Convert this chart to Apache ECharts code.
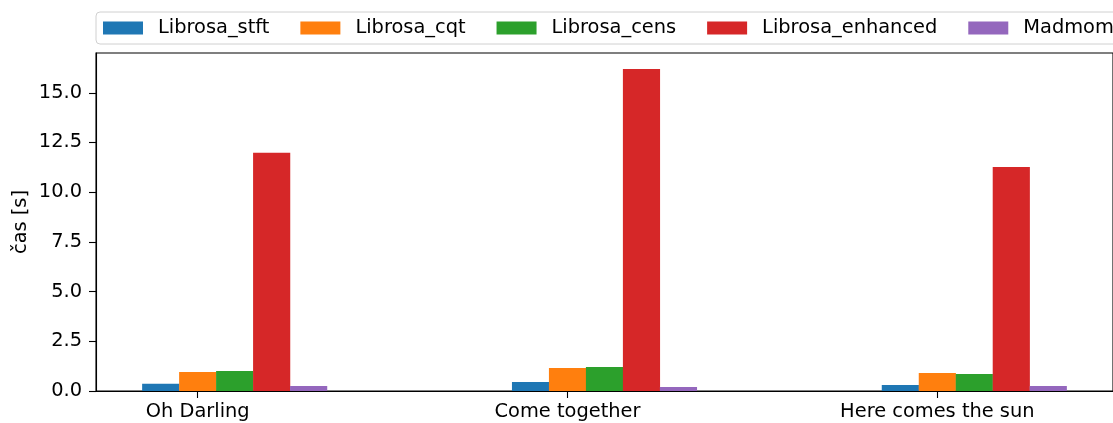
<!DOCTYPE html>
<html>
<head>
<meta charset="utf-8">
<script src="https://cdn.jsdelivr.net/npm/echarts@6/dist/echarts.min.js"></script>
<style>
html,body{margin:0;padding:0;background:#fff;}
#c{width:1113px;height:423px;}
</style>
</head>
<body>
<div id="c"></div>
<script>
// ---- data ----
const categories = ['Oh Darling', 'Come together', 'Here comes the sun'];
const seriesNames = ['Librosa_stft', 'Librosa_cqt', 'Librosa_cens', 'Librosa_enhanced', 'Madmom'];
const librosaStft = [0.37, 0.45, 0.30];
const librosaCqt = [0.96, 1.16, 0.91];
const librosaCens = [1.01, 1.21, 0.86];
const librosaEnhanced = [11.98, 16.19, 11.26];
const madmom = [0.25, 0.20, 0.25];
const yTicks = [0, 2.5, 5, 7.5, 10, 12.5, 15];

// ---- layout / style ----
const colors = ['#1f77b4', '#ff7f0e', '#2ca02c', '#d62728', '#9467bd'];
const allValues = [librosaStft, librosaCqt, librosaCens, librosaEnhanced, madmom];
const barUnit = 0.1;                 // bar width in category units
const offsets = [-0.1, 0, 0.1, 0.2, 0.3];
const xMin = -0.275, xMax = 2.475;
const yMax = Math.max(...librosaEnhanced) * 1.05;
const gridLeft = 96, gridRight = -5, gridTop = 53, gridBottom = 32;
const W = 1113;
const plotW = W - gridLeft - gridRight;
const barPx = plotW / (xMax - xMin) * barUnit;
const font = 'DejaVu Sans';
const fs = 19.4;

const chart = echarts.init(document.getElementById('c'), null, {renderer: 'canvas'});
const series = allValues.map((vals, s) => ({
  name: seriesNames[s],
  type: 'bar',
  barWidth: barPx,
  barGap: '-100%',
  itemStyle: {color: colors[s]},
  data: vals.map((v, i) => [i + offsets[s], v]),
  animation: false
}));

chart.setOption({
  animation: false,
  textStyle: {fontFamily: font},
  grid: {
    left: gridLeft, right: gridRight, top: gridTop, bottom: gridBottom,
    show: true, borderColor: '#000', borderWidth: 1.1, backgroundColor: 'transparent'
  },
  legend: {
    left: 96, top: 12, width: 1600,
    padding: [6, 7, 6, 7],
    itemWidth: 40, itemHeight: 13, itemGap: 31,
    icon: 'rect',
    backgroundColor: 'rgba(255,255,255,0.8)',
    borderColor: '#d0d0d0', borderWidth: 1, borderRadius: 4,
    textStyle: {fontFamily: font, fontSize: fs, color: '#000', padding: [0, 0, 0, 10], lineHeight: 20},
    data: seriesNames
  },
  xAxis: {
    type: 'value', min: xMin, max: xMax,
    axisLine: {show: true, onZero: false, lineStyle: {color: '#000', width: 1.1}},
    axisTick: {show: true, length: 7, lineStyle: {color: '#000', width: 1.1}, customValues: [0, 1, 2]},
    axisLabel: {
      customValues: [0, 1, 2],
      color: '#000', fontSize: fs, fontFamily: font, margin: 11,
      formatter: v => categories[Math.round(v)] || ''
    },
    splitLine: {show: false}
  },
  yAxis: {
    type: 'value', min: 0, max: yMax,
    name: 'čas [s]', nameLocation: 'middle', nameGap: 66, nameMoveOverlap: false,
    nameTextStyle: {color: '#000', fontSize: fs, fontFamily: font},
    axisLine: {show: true, onZero: false, lineStyle: {color: '#000', width: 1.1}},
    axisTick: {show: true, length: 7, lineStyle: {color: '#000', width: 1.1}, customValues: yTicks},
    axisLabel: {
      customValues: yTicks,
      color: '#000', fontSize: fs, fontFamily: font, margin: 14,
      formatter: v => v.toFixed(1)
    },
    splitLine: {show: false}
  },
  series: series
});
</script>
</body>
</html>
